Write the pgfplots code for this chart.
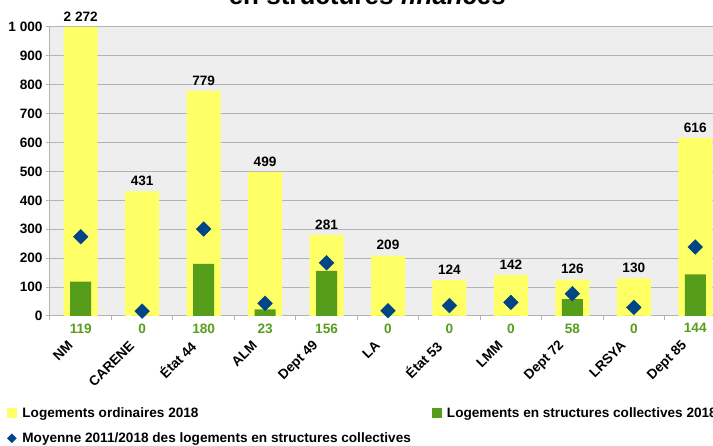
\documentclass[border=0pt]{standalone}
\usepackage{fontspec}
\setmainfont{Liberation Sans}
\usepackage{pgfplots}
\usepackage{pgfplotstable}
\pgfplotsset{compat=1.18}

\definecolor{ordi}{HTML}{FFFF66}
\definecolor{coll}{HTML}{579D1C}
\definecolor{moy}{HTML}{004586}
\definecolor{gridc}{HTML}{B3B3B3}
\definecolor{bgc}{HTML}{EEEEEE}

% x ordinaires collectives moyenne
\pgfplotstableread{
x ordi coll moy
0 2272 119 274
1 431 0 17
2 779 180 301
3 499 23 44
4 281 156 184
5 209 0 18
6 124 0 36
7 142 0 47
8 126 58 77
9 130 0 30
10 616 144 239
}\data

\begin{document}
\begin{tikzpicture}[font=\fontsize{13.6}{16}\selectfont\bfseries]
\begin{axis}[
  scale only axis, width=676pt, height=289pt,
  xmin=-0.5, xmax=10.5, ymin=0, ymax=1000,
  clip=false,
  axis background/.style={fill=bgc},
  axis lines*=left,
  axis line style={gridc, line width=1pt, -},
  ymajorgrids, grid style={gridc, line width=1pt},
  ytick={0,100,...,1000},
  /pgf/number format/assume math mode=true,
  /pgf/number format/1000 sep={\ },
  xtick={-0.5,0.5,...,10.5},
  xticklabels={},
  extra x ticks={0,...,10},
  extra x tick labels={NM, CARENE, État 44, ALM, Dept 49, LA, État 53, LMM, Dept 72, LRSYA, Dept 85},
  extra x tick style={major tick length=0pt,
    tick label style={yshift=-25pt, xshift=-8pt, rotate=45, anchor=east}},
  tick style={gridc, line width=1pt},
  tick align=outside,
  major tick length=4pt,
  legend columns=2,
  legend cell align=left,
  legend style={at={(axis description cs:-0.0636,-0.308)}, anchor=north west,
    draw=none, fill=none, inner sep=0pt, row sep=10pt,
    /tikz/every odd column/.append style={column sep=3pt},
    /tikz/every even column/.append style={column sep=19pt}},
]
\addplot[ybar, bar width=34pt, bar shift=0pt, fill=ordi, draw=none,
  y filter/.expression={min(y,1000)}, point meta=rawy,
  nodes near coords, every node near coord/.append style={text=black, yshift=2pt},
  legend image code/.code={\fill[ordi] (0pt,-5pt) rectangle (10pt,5pt);}]
  table[x=x, y=ordi]{\data};
\addlegendentry{Logements ordinaires 2018}
\addplot[ybar, bar width=21pt, bar shift=0pt, fill=coll, draw=none,
  legend image code/.code={\fill[coll] (0pt,-5pt) rectangle (10pt,5pt);}]
  table[x=x, y=coll]{\data};
\addlegendentry{Logements en structures collectives 2018}
\addplot[only marks, mark=square*, mark size=5.2pt, color=moy,
  mark options={rotate=45, fill=moy, draw=moy},
  legend image code/.code={\fill[moy] (4.5pt,4.5pt) -- (9pt,0pt) -- (4.5pt,-4.5pt) -- (0pt,0pt) -- cycle;}]
  table[x=x, y=moy]{\data};
\addlegendentry{Moyenne 2011/2018 des logements en structures collectives}
% green value labels under the axis
\addplot[draw=none, forget plot, y filter/.expression={0}, point meta=rawy,
  nodes near coords, every node near coord/.append style={anchor=north, text=coll, yshift=-4pt}]
  table[x=x, y=coll]{\data};
\end{axis}
\node[anchor=base, inner sep=0pt, font=\fontsize{26}{30}\selectfont\bfseries] at (317.5pt,311pt) {en structures \textit{financés}};
\pgfresetboundingbox
\useasboundingbox (-50pt,-130pt) rectangle (663pt,316pt);
\end{tikzpicture}
\end{document}
